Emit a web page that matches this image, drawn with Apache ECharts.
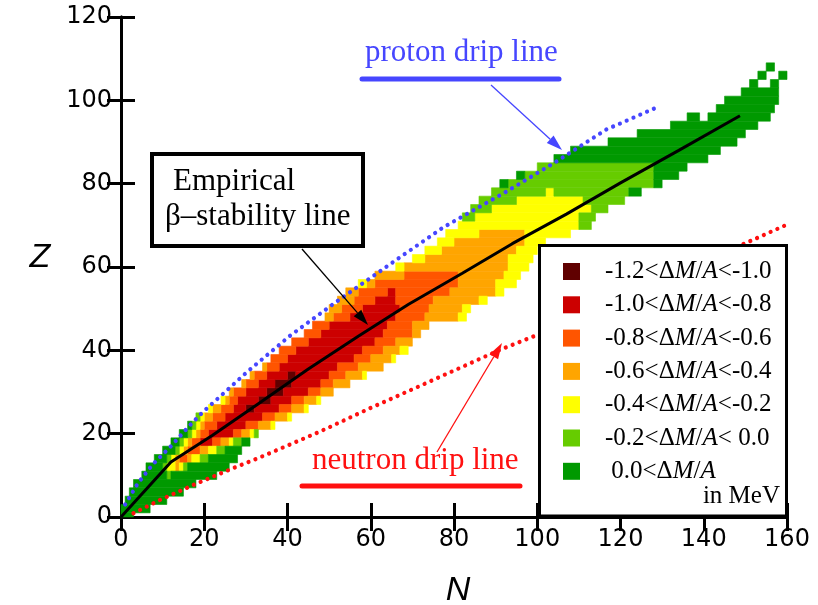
<!DOCTYPE html>
<html><head><meta charset="utf-8">
<script src="https://cdn.jsdelivr.net/npm/echarts@6/dist/echarts.min.js"></script>
<style>html,body{margin:0;padding:0;background:#fff}#c{width:818px;height:605px}</style>
</head><body><div id="c"></div>
<script>
// ---- axis ticks ----
const xTicks = [0, 20, 40, 60, 80, 100, 120, 140, 160];
const yTicks = [0, 20, 40, 60, 80, 100, 120];

// ---- legend labels (one per colour band) ----
const bandLabels = ['-1.2<ΔM/A<-1.0', '-1.0<ΔM/A<-0.8', '-0.8<ΔM/A<-0.6', '-0.6<ΔM/A<-0.4',
                    '-0.4<ΔM/A<-0.2', '-0.2<ΔM/A< 0.0', ' 0.0<ΔM/A'];
const bandColors = ['#600000', '#cc0000', '#ff5500', '#ffa500', '#ffff00', '#66cc00', '#009900'];

// ---- cell runs: [Z (row centre), N start, N end] ----
const darkRed = [[26,30,32],[28,33,36],[30,35,39],[32,37,41],[34,40,42]];
const red = [[18,19,22],[20,21,27],[22,23,30],[24,25,34],[26,27,30],[26,32,38],[28,28,33],[28,36,41],
  [30,30,35],[30,39,45],[32,33,37],[32,41,48],[34,35,40],[34,42,50],[36,38,52],[38,40,56],[40,42,58],
  [42,45,61],[44,48,63],[46,50,64],[48,55,66],[50,58,67],[52,61,66],[54,64,66]];
const orangeRed = [[14,14,16],[16,16,19],[18,17,19],[18,22,24],[20,19,21],[20,27,29],[22,20,23],[22,30,33],
  [24,22,25],[24,34,37],[26,24,27],[26,38,41],[28,26,28],[28,41,44],[30,27,30],[30,45,48],[32,30,33],
  [32,48,51],[34,32,35],[34,50,54],[36,35,38],[36,52,57],[38,36,40],[38,56,60],[40,38,42],[40,58,63],
  [42,41,45],[42,61,66],[44,44,48],[44,63,70],[46,46,50],[46,64,70],[48,51,55],[48,66,73],[50,53,58],
  [50,67,74],[52,56,61],[52,66,75],[54,57,64],[54,66,79],[56,61,81],[58,68,81]];
const orange = [[12,13,14],[14,13,14],[14,16,17],[16,15,16],[16,19,21],[18,16,17],[18,24,26],[20,18,19],
  [20,29,31],[22,19,20],[22,33,36],[24,20,22],[24,37,40],[26,22,24],[26,41,44],[28,25,26],[28,44,47],
  [30,26,27],[30,48,51],[32,29,30],[32,51,55],[34,31,32],[34,54,58],[36,34,35],[36,57,63],[38,60,65],
  [40,63,67],[42,66,70],[44,70,72],[46,70,74],[48,49,51],[48,73,81],[50,50,53],[50,74,82],[52,52,56],
  [52,75,86],[54,54,57],[54,79,90],[56,59,61],[56,81,90],[58,61,68],[58,81,92],[60,68,93],[62,73,93],
  [64,77,95],[66,80,97],[68,86,97]];
const yellow = [[12,11,13],[12,14,15],[14,12,13],[14,17,19],[16,14,15],[16,21,23],[18,15,16],[18,26,27],
  [20,17,18],[20,31,32],[22,18,19],[22,36,37],[24,19,20],[24,40,41],[26,21,22],[26,44,45],[28,24,25],
  [28,47,48],[34,58,59],[38,65,66],[40,67,69],[48,81,83],[50,82,84],[52,86,88],[54,90,92],[56,57,59],
  [56,90,95],[58,92,96],[60,66,68],[60,93,98],[62,70,73],[62,93,99],[64,73,77],[64,95,100],[66,76,80],
  [66,97,102],[68,78,86],[68,97,108],[70,81,110],[72,85,110],[74,89,113],[76,95,111],[78,102,104]];
const lightGreen = [[10,11,12],[12,10,11],[12,15,16],[14,11,12],[14,19,21],[16,13,14],[16,23,25],[18,14,15],
  [18,27,29],[20,16,17],[20,32,33],[22,17,18],[24,18,19],[70,110,113],[72,82,85],[72,110,114],[74,84,89],
  [74,113,117],[76,86,95],[76,111,121],[78,89,102],[78,104,122],[80,93,128],[82,97,128],[84,100,128]];
const green = [[0,0,3],[2,0,7],[4,1,11],[6,2,15],[8,3,18],[10,5,11],[10,12,23],[12,6,10],[12,16,26],
  [14,8,11],[14,21,28],[16,10,13],[16,25,29],[18,12,14],[18,29,31],[20,14,16],[22,16,17],[78,122,125],
  [80,91,93],[80,128,130],[82,95,97],[82,128,134],[84,128,136],[86,104,141],[88,108,144],[90,117,148],
  [92,124,150],[94,132,153],[96,136,139],[96,141,156],[98,143,157],[100,145,158],[102,149,158],
  [104,151,153],[104,156,158],[106,153,155],[106,158,160],[108,155,157]];

// ---- lines: [N, Z] ----
const protonDrip = [[1,3],[4,8],[7.5,12.5],[12,17],[17,22.5],[20,25.5],[25,30],[30.5,35],[40.6,43.5],
  [51.8,51.7],[62,58.8],[67,62.3],[77.4,69.5],[92.6,78.1],[104.6,85.3],[116.6,93],[129.4,98.6]];
const neutronDrip = [[3,0.9],[9.4,4.1],[17.4,7.7],[26.9,11.7],[32.9,14.1],[47.8,20.5],[59.8,26.1],
  [67,29.3],[91,40.1],[99,43.3],[151.8,66.5],[160,70.2]];
const stabilityLine = [[0,0],[12,13.2],[22,19.6],[33,27.2],[45,35.5],[57,43.4],[69,51],[82,58.5],
  [94,65.6],[107,72.7],[120,80.2],[134,88],[148.7,96.3]];

const cellSets = [darkRed, red, orangeRed, orange, yellow, lightGreen, green];

const chart = echarts.init(document.getElementById('c'), null, {renderer: 'canvas'});

function cellRenderer(color) {
  return function (params, api) {
    const z = api.value(0), n0 = api.value(1), n1 = api.value(2);
    const a = api.coord([n0, z + 1]);
    const b = api.coord([n1, z - 1]);
    const cs = params.coordSys;
    const r = echarts.graphic.clipRectByRect(
      {x: a[0], y: a[1], width: b[0] - a[0], height: b[1] - a[1]},
      {x: cs.x, y: cs.y, width: cs.width, height: cs.height});
    return r && {type: 'rect', shape: r, style: {fill: color, stroke: color, lineWidth: 0.6}};
  };
}

const series = cellSets.map((d, i) => ({
  type: 'custom', name: bandLabels[i], data: d, renderItem: cellRenderer(bandColors[i]),
  encode: {x: [1, 2], y: 0}, itemStyle: {color: bandColors[i]}, z: 2, silent: true, animation: false
}));

series.push({type: 'line', data: protonDrip, showSymbol: false, silent: true, animation: false, z: 4,
  lineStyle: {color: '#4646ff', width: 4.2, type: [0.01, 7.4], cap: 'round'}});
series.push({type: 'line', data: neutronDrip, showSymbol: false, silent: true, animation: false, z: 4,
  lineStyle: {color: '#ff1010', width: 4.2, type: [0.01, 7.4], cap: 'round'}});
series.push({type: 'line', data: stabilityLine, showSymbol: false, silent: true, animation: false, z: 5,
  lineStyle: {color: '#000', width: 3}});

function arrow(x1, y1, x2, y2, color) {
  const ang = Math.atan2(y2 - y1, x2 - x1), L = 16, W = 5;
  const bx = x2 - L * Math.cos(ang), by = y2 - L * Math.sin(ang);
  return [
    {type: 'line', z: 120, shape: {x1: x1, y1: y1, x2: bx, y2: by}, style: {stroke: color, lineWidth: 1.3}},
    {type: 'polygon', z: 120, shape: {points: [[x2, y2],
      [bx + W * Math.sin(ang), by - W * Math.cos(ang)], [bx - W * Math.sin(ang), by + W * Math.cos(ang)]]},
      style: {fill: color}}
  ];
}

const serif = '"Liberation Serif", "Times New Roman", serif';
const sans = '"Liberation Sans", Arial, sans-serif';
const tickFont = '"DejaVu Sans", sans-serif';

const axisCommon = {
  axisLine: {show: true, lineStyle: {color: '#000', width: 3}},
  axisTick: {show: true, inside: true, length: 14, lineStyle: {color: '#000', width: 3}},
  splitLine: {show: false}
};

const graphics = [
  {type: 'rect', z: 100, shape: {x: 152, y: 154, width: 211, height: 92},
   style: {fill: '#fff', stroke: '#000', lineWidth: 4}},
  {type: 'text', z: 121, style: {text: 'Empirical', x: 173, y: 181.5, font: '31px ' + serif,
   fill: '#000', verticalAlign: 'middle'}},
  {type: 'text', z: 121, style: {text: 'β–stability line', x: 165, y: 216.5, font: '31px ' + serif,
   fill: '#000', verticalAlign: 'middle'}},
  {type: 'text', z: 121, style: {text: 'proton drip line', x: 365, y: 52.8, font: '31px ' + serif,
   fill: '#4646ff', verticalAlign: 'middle'}},
  {type: 'line', z: 121, shape: {x1: 362, y1: 79, x2: 559, y2: 79},
   style: {stroke: '#4646ff', lineWidth: 5, lineCap: 'round'}},
  {type: 'text', z: 121, style: {text: 'neutron drip line', x: 312, y: 461.2, font: '31px ' + serif,
   fill: '#ff1010', verticalAlign: 'middle'}},
  {type: 'line', z: 121, shape: {x1: 302, y1: 486, x2: 520, y2: 486},
   style: {stroke: '#ff1010', lineWidth: 5, lineCap: 'round'}},
  {type: 'rect', z: 100, shape: {x: 539.5, y: 245.5, width: 247, height: 270.5},
   style: {fill: '#fff', stroke: '#000', lineWidth: 3}},
  {type: 'text', z: 121, style: {text: 'in MeV', x: 780, y: 496.5, font: '25px ' + serif,
   fill: '#000', align: 'right', verticalAlign: 'middle'}},
  {type: 'text', z: 121, style: {text: 'Z', x: 40, y: 258, font: 'italic 34px ' + sans,
   fill: '#000', align: 'center', verticalAlign: 'middle'}},
  {type: 'text', z: 121, style: {text: 'N', x: 458, y: 591, font: 'italic 34px ' + sans,
   fill: '#000', align: 'center', verticalAlign: 'middle'}}
].concat(arrow(491, 85, 562, 150, '#4646ff'))
 .concat(arrow(437, 452, 502, 343, '#ff1010'))
 .concat(arrow(302, 249, 368, 325, '#000'));

const option = {
  backgroundColor: '#fff',
  animation: false,
  grid: {left: 121, top: 17, width: 666, height: 500, containLabel: false},
  xAxis: [
    Object.assign({type: 'value', position: 'bottom', min: xTicks[0], max: xTicks[xTicks.length - 1],
      interval: xTicks[1] - xTicks[0],
      axisLabel: {fontSize: 24, color: '#000', margin: 11, fontFamily: tickFont}}, axisCommon),
    Object.assign({type: 'value', position: 'top', min: xTicks[0], max: xTicks[xTicks.length - 1],
      interval: xTicks[1] - xTicks[0], axisLabel: {show: false}}, axisCommon)
  ],
  yAxis: [
    Object.assign({type: 'value', position: 'left', min: yTicks[0], max: yTicks[yTicks.length - 1],
      interval: yTicks[1] - yTicks[0],
      axisLabel: {fontSize: 24, color: '#000', margin: 9, fontFamily: tickFont}}, axisCommon),
    Object.assign({type: 'value', position: 'right', min: yTicks[0], max: yTicks[yTicks.length - 1],
      interval: yTicks[1] - yTicks[0], axisLabel: {show: false}}, axisCommon)
  ],
  legend: {
    show: true, orient: 'vertical', left: 563, top: 258.5, padding: 0, z: 110,
    itemWidth: 17, itemHeight: 17, itemGap: 7.3, icon: 'rect', selectedMode: false,
    data: bandLabels,
    formatter: function (name) {
      return '{sp| }' + name.replace('M', '{i|M}').replace('A', '{i|A}');
    },
    textStyle: {
      fontFamily: serif, fontSize: 25, color: '#000', lineHeight: 26,
      rich: {
        sp: {width: 20, fontSize: 25, lineHeight: 26},
        i: {fontStyle: 'italic', fontFamily: serif, fontSize: 25, lineHeight: 26, color: '#000'}
      }
    }
  },
  graphic: {elements: graphics},
  series: series
};
chart.setOption(option);
</script>
</body></html>
